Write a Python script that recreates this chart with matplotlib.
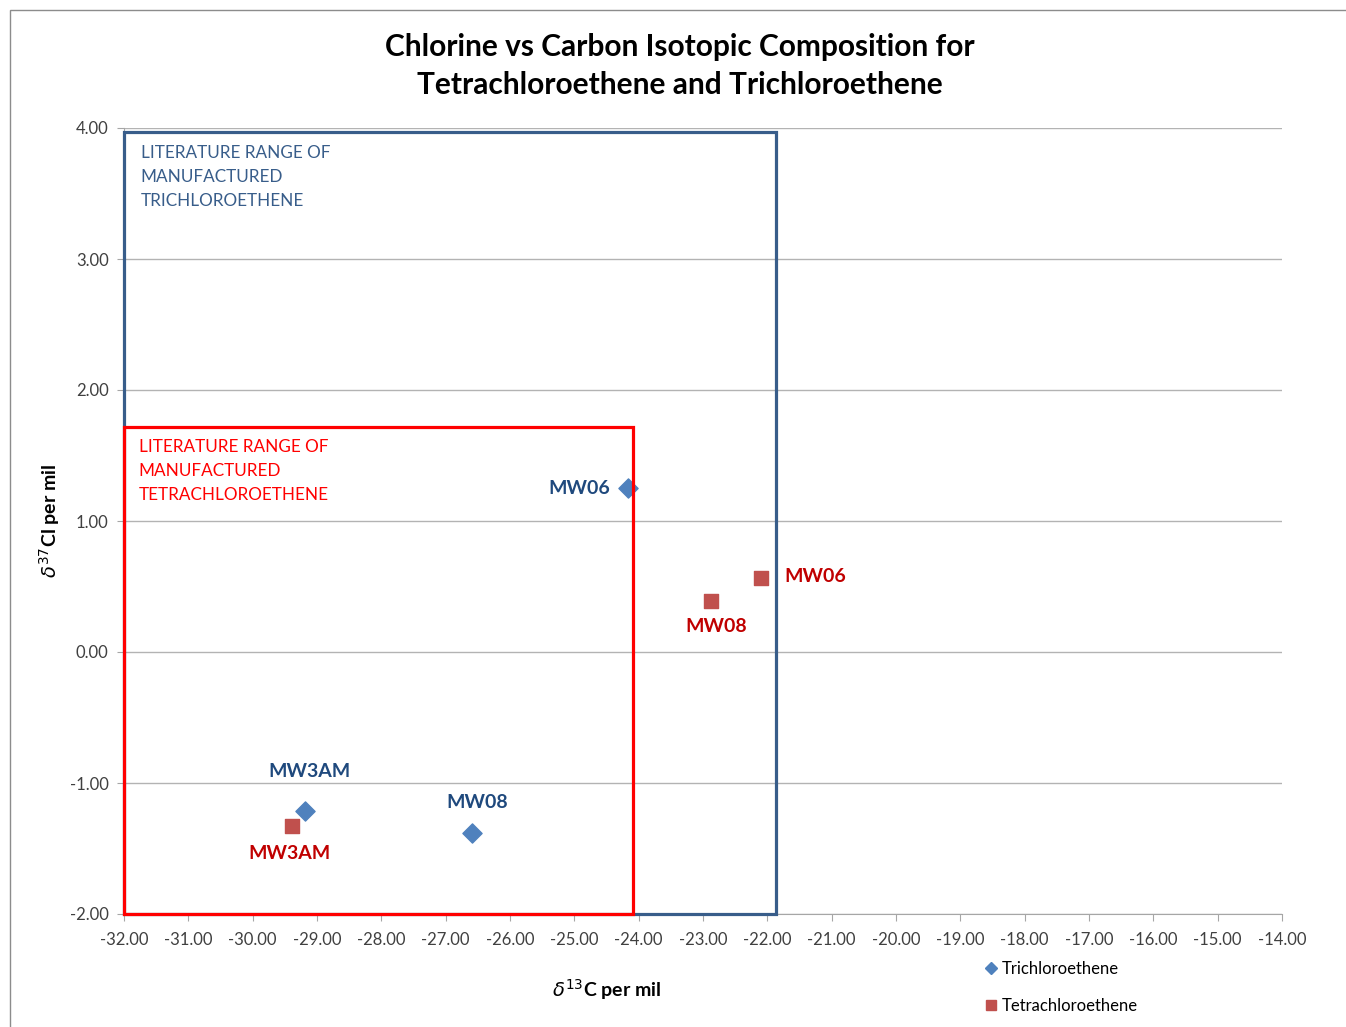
import matplotlib.pyplot as plt
import matplotlib.patches as patches
from matplotlib.lines import Line2D

plt.rcParams['font.family'] = ['Lato', 'DejaVu Sans']

# delta 13C / delta 37Cl (per mil) for each well
tce_wells = ['MW06', 'MW3AM', 'MW08']
tce_c13 = [-24.17, -29.19, -26.59]
tce_cl37 = [1.25, -1.21, -1.38]

pce_wells = ['MW06', 'MW08', 'MW3AM']
pce_c13 = [-22.10, -22.88, -29.39]
pce_cl37 = [0.565, 0.39, -1.33]

# literature ranges of manufactured solvent (c13 min, c13 max, cl37 min, cl37 max)
tce_range = (-32.0, -21.87, -2.0, 3.97)
pce_range = (-32.0, -24.09, -2.0, 1.72)

x_ticks = list(range(-32, -13))
y_ticks = [-2, -1, 0, 1, 2, 3, 4]

blue_mark = '#4F81BD'
red_mark = '#C0504D'
blue_text = '#1F497D'
red_text = '#C00000'
tce_box_col = '#385D8A'
pce_box_col = '#FF0000'

fig = plt.figure(figsize=(13.46, 10.27), dpi=100)
ax = fig.add_axes([124 / 1346, 1 - 914 / 1027, (1282 - 124) / 1346, (914 - 128) / 1027])

# outer chart frame
fig.patches.append(patches.Rectangle((10 / 1346, -0.1), 1.5, 1 - 10 / 1027 + 0.1,
                                     transform=fig.transFigure, fill=False,
                                     edgecolor='#8C8C8C', lw=1.0))

ax.set_xlim(-32, -14)
ax.set_ylim(-2, 4)
ax.set_xticks(x_ticks)
ax.set_yticks(y_ticks)
ax.set_xticklabels([f'{v:.2f}' for v in x_ticks])
ax.set_yticklabels([f'{v:.2f}' for v in y_ticks])
ax.tick_params(axis='both', labelsize=12, colors='#404040', length=5, color='#A6A6A6')
ax.tick_params(axis='x', pad=8)
ax.tick_params(axis='y', pad=6)
ax.grid(axis='y', color='#B3B3B3', lw=1.0)
ax.set_axisbelow(True)
for side in ['top', 'right']:
    ax.spines[side].set_visible(False)
for side in ['left', 'bottom']:
    ax.spines[side].set_color('#A6A6A6')

ax.scatter(tce_c13, tce_cl37, marker='D', s=95, color=blue_mark, zorder=3)
ax.scatter(pce_c13, pce_cl37, marker='s', s=100, color=red_mark, zorder=3)

# range boxes
for (x0, x1, y0, y1), col in [(tce_range, tce_box_col), (pce_range, pce_box_col)]:
    ax.add_patch(patches.Rectangle((x0, y0), x1 - x0, y1 - y0, fill=False,
                                   edgecolor=col, lw=2.3, zorder=4, clip_on=False))

ax.text(-31.74, 3.872, 'LITERATURE RANGE OF\nMANUFACTURED\nTRICHLOROETHENE',
        color=tce_box_col, fontsize=12.3, va='top', ha='left', linespacing=1.62, zorder=5)
ax.text(-31.77, 1.627, 'LITERATURE RANGE OF\nMANUFACTURED\nTETRACHLOROETHENE',
        color=pce_box_col, fontsize=12.3, va='top', ha='left', linespacing=1.62, zorder=5)

# well labels
tce_offsets = {'MW06': (-13, 0, 'right'), 'MW3AM': (3.6, 28, 'center'), 'MW08': (3.6, 21.6, 'center')}
pce_offsets = {'MW06': (17, 1, 'left'), 'MW08': (3.6, -18.7, 'center'), 'MW3AM': (-1.4, -19.4, 'center')}
for name, x, y in zip(tce_wells, tce_c13, tce_cl37):
    dx, dy, ha = tce_offsets[name]
    ax.annotate(name, (x, y), xytext=(dx, dy), textcoords='offset points', ha=ha, va='center',
                fontsize=14, fontweight='bold', color=blue_text, zorder=6)
for name, x, y in zip(pce_wells, pce_c13, pce_cl37):
    dx, dy, ha = pce_offsets[name]
    ax.annotate(name, (x, y), xytext=(dx, dy), textcoords='offset points', ha=ha, va='center',
                fontsize=14, fontweight='bold', color=red_text, zorder=6)

fig.text(680 / 1346, 1 - 66 / 1027,
         'Chlorine vs Carbon Isotopic Composition for\nTetrachloroethene and Trichloroethene',
         ha='center', va='center', fontsize=21.5, fontweight='bold', linespacing=1.42)
fig.text(607 / 1346, 1 - 990 / 1027, r'$\delta^{13}$C per mil', ha='center', va='center',
         fontsize=14, fontweight='bold')
fig.text(50 / 1346, 1 - 521 / 1027, r'$\delta^{37}$Cl per mil', ha='center', va='center',
         fontsize=14, fontweight='bold', rotation=90)

handles = [Line2D([], [], marker='D', ls='none', color=blue_mark, markersize=6),
           Line2D([], [], marker='s', ls='none', color=red_mark, markersize=7)]
fig.legend(handles, ['Trichloroethene', 'Tetrachloroethene'], loc='upper left',
           bbox_to_anchor=(978 / 1346, 1 - 953 / 1027), frameon=False, fontsize=12,
           handlelength=0.6, handletextpad=0.3, labelspacing=1.25, borderpad=0)

fig.savefig('out.png', dpi=100)
